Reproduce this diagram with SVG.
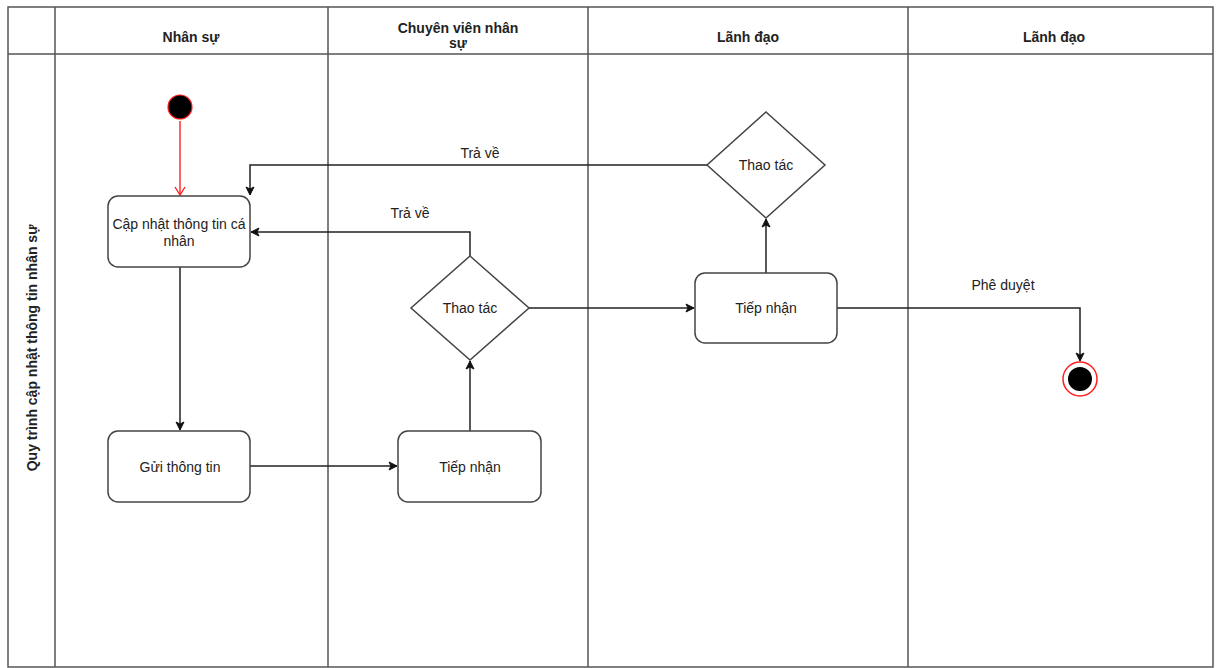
<svg xmlns="http://www.w3.org/2000/svg" width="1216" height="668" viewBox="0 0 1216 668">
  <defs>
    <marker id="arrow" markerWidth="10" markerHeight="10" refX="9" refY="5" orient="auto" markerUnits="userSpaceOnUse">
      <path d="M1,1 L9,5 L1,9 L3,5 Z" fill="#111" stroke="#111" stroke-width="1"/>
    </marker>
    <marker id="arrow-open" markerWidth="12" markerHeight="12" refX="10" refY="6" orient="auto" markerUnits="userSpaceOnUse">
      <path d="M2,1 L10,6 L2,11" fill="none" stroke="#ff2020" stroke-width="1.4"/>
    </marker>
  </defs>
  <style>
    .lane { fill: none; stroke: #555; stroke-width: 1.5; }
    .hdr { font-family: "Liberation Sans", Arial, sans-serif; font-size: 14px; font-weight: bold; fill: #222; text-anchor: middle; }
    .txt { font-family: "Liberation Sans", Arial, sans-serif; font-size: 14px; fill: #222; text-anchor: middle; }
    .box { fill: #fff; stroke: #444; stroke-width: 1.5; }
    .edge { fill: none; stroke: #222; stroke-width: 1.5; }
  </style>

  <rect width="1216" height="668" fill="#fff"/>

  <!-- pool and lanes -->
  <g id="pool">
    <rect class="lane" x="8" y="7" width="1205" height="660"/>
    <line class="lane" x1="55" y1="7" x2="55" y2="667"/>
    <line class="lane" x1="328" y1="7" x2="328" y2="667"/>
    <line class="lane" x1="588" y1="7" x2="588" y2="667"/>
    <line class="lane" x1="908" y1="7" x2="908" y2="667"/>
    <line class="lane" x1="8" y1="54" x2="1213" y2="54"/>
    <text class="hdr" transform="translate(37,348) rotate(-90)">Quy trình cập nhật thông tin nhân sự</text>
    <text class="hdr" x="191" y="42">Nhân sự</text>
    <text class="hdr" x="458" y="33">Chuyên viên nhân</text>
    <text class="hdr" x="458" y="48">sự</text>
    <text class="hdr" x="748" y="42">Lãnh đạo</text>
    <text class="hdr" x="1054" y="42">Lãnh đạo</text>
  </g>

  <!-- connectors -->
  <g id="connectors">
    <line x1="180" y1="121" x2="180" y2="195" stroke="#ff2020" stroke-width="1.4" marker-end="url(#arrow-open)"/>
    <line class="edge" x1="180" y1="267" x2="180" y2="430" marker-end="url(#arrow)"/>
    <line class="edge" x1="250" y1="466" x2="397" y2="466" marker-end="url(#arrow)"/>
    <line class="edge" x1="470" y1="431" x2="470" y2="361" marker-end="url(#arrow)"/>
    <polyline class="edge" points="470,256 470,232 251,232" marker-end="url(#arrow)"/>
    <text class="txt" x="410" y="218">Trả về</text>
    <line class="edge" x1="529" y1="308" x2="694" y2="308" marker-end="url(#arrow)"/>
    <line class="edge" x1="766" y1="273" x2="766" y2="219" marker-end="url(#arrow)"/>
    <polyline class="edge" points="707,165 250,165 250,195" marker-end="url(#arrow)"/>
    <text class="txt" x="480" y="158">Trả về</text>
    <polyline class="edge" points="837,308 1080,308 1080,361" marker-end="url(#arrow)"/>
    <text class="txt" x="1003" y="290">Phê duyệt</text>
  </g>

  <!-- nodes -->
  <g id="start">
    <circle cx="180" cy="107" r="12" fill="#000" stroke="#ff2020" stroke-width="1.2"/>
  </g>
  <g id="update-info">
    <rect class="box" x="108" y="196" width="142" height="71" rx="10"/>
    <text class="txt" x="179" y="229">Cập nhật thông tin cá</text>
    <text class="txt" x="179" y="246">nhân</text>
  </g>
  <g id="send-info">
    <rect class="box" x="108" y="431" width="142" height="71" rx="10"/>
    <text class="txt" x="180" y="472">Gửi thông tin</text>
  </g>
  <g id="receive-specialist">
    <rect class="box" x="398" y="431" width="143" height="71" rx="10"/>
    <text class="txt" x="470" y="472">Tiếp nhận</text>
  </g>
  <g id="decide-specialist">
    <polygon class="box" points="470,256 529,308 470,360 411,308"/>
    <text class="txt" x="470" y="313">Thao tác</text>
  </g>
  <g id="receive-leader">
    <rect class="box" x="695" y="273" width="142" height="70" rx="10"/>
    <text class="txt" x="766" y="313">Tiếp nhận</text>
  </g>
  <g id="decide-leader">
    <polygon class="box" points="766,112 825,165 766,218 707,165"/>
    <text class="txt" x="766" y="170">Thao tác</text>
  </g>
  <g id="end">
    <circle cx="1080" cy="379" r="17" fill="#fff" stroke="#ff2020" stroke-width="1.5"/>
    <circle cx="1080" cy="379" r="12" fill="#000"/>
  </g>
</svg>
